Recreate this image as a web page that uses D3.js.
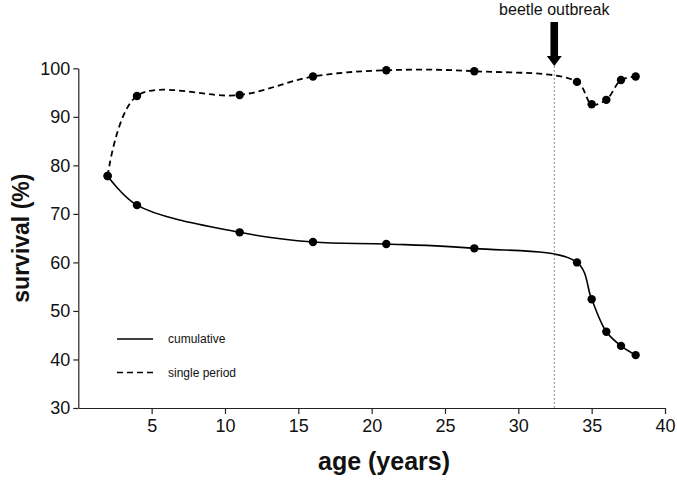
<!DOCTYPE html>
<html><head><meta charset="utf-8">
<script src="https://cdn.jsdelivr.net/npm/d3@7"></script>
<style>body{margin:0;background:#fff}svg{display:block}text{font-family:"Liberation Sans",Arial,sans-serif}</style>
</head><body>
<svg id="c" width="677" height="483"></svg>
<script>
const ages = [2, 4, 11, 16, 21, 27, 34, 35, 36, 37, 38];
const cumulative = [77.8, 71.8, 66.2, 64.2, 63.8, 62.9, 60.0, 52.4, 45.7, 42.8, 40.9];
const singlePeriod = [77.8, 94.3, 94.5, 98.3, 99.6, 99.4, 97.2, 92.6, 93.5, 97.6, 98.3];
const xTicks = [5, 10, 15, 20, 25, 30, 35, 40];
const yTicks = [30, 40, 50, 60, 70, 80, 90, 100];
const outbreakAge = 32.45;
const legendItems = [{label: "cumulative", dash: null}, {label: "single period", dash: "6,4"}];

const svg = d3.select("#c");
const x = d3.scaleLinear().domain([0, 40]).range([78.3, 665]);
const y = d3.scaleLinear().domain([30, 100]).range([408, 68.3]);

// axes
const xAxis = svg.append("g").attr("transform", `translate(0,${y(30)})`)
  .call(d3.axisBottom(x).tickValues(xTicks).tickSize(6).tickSizeOuter(0).tickPadding(5));
const yAxis = svg.append("g").attr("transform", `translate(${x(0)},0)`)
  .call(d3.axisLeft(y).tickValues(yTicks).tickSize(5).tickSizeOuter(0).tickPadding(3));
[xAxis, yAxis].forEach(g => {
  g.selectAll("path,line").attr("stroke", "#222").attr("stroke-width", 1.2);
  g.selectAll("text").attr("fill", "#111").style("font-size", "18px").style("font-family", "'Liberation Sans', Arial, sans-serif");
});

// vertical dotted line
svg.append("line").attr("x1", x(outbreakAge)).attr("x2", x(outbreakAge))
  .attr("y1", 66).attr("y2", y(30))
  .attr("stroke", "#888").attr("stroke-width", 1).attr("stroke-dasharray", "2,2");

// arrow
const ax = x(outbreakAge);
svg.append("path")
  .attr("d", `M${ax-3.8},22 L${ax+3.8},22 L${ax+3.8},56 L${ax+7.5},56 L${ax},66 L${ax-7.5},56 L${ax-3.8},56 Z`)
  .attr("fill", "#000");
svg.append("text").attr("x", ax).attr("y", 15).attr("text-anchor", "middle")
  .style("font-size", "16px").attr("fill", "#111").text("beetle outbreak");

const line = d3.line().x(d => x(d[0])).y(d => y(d[1])).curve(d3.curveCatmullRom.alpha(0.5));
const cumData = ages.map((a, i) => [a, cumulative[i]]);
const sinData = ages.map((a, i) => [a, singlePeriod[i]]);

svg.append("path").attr("d", line(cumData)).attr("fill", "none").attr("stroke", "#000").attr("stroke-width", 1.6);
svg.append("path").attr("d", line(sinData)).attr("fill", "none").attr("stroke", "#000").attr("stroke-width", 1.8).attr("stroke-dasharray", "6,4");

[cumData, sinData].forEach(data => {
  svg.append("g").selectAll("circle").data(data).join("circle")
    .attr("cx", d => x(d[0])).attr("cy", d => y(d[1])).attr("r", 4.2).attr("fill", "#000");
});

// legend
const lg = svg.append("g");
legendItems.forEach((it, i) => {
  const ly = 339 + i * 33.5;
  lg.append("line").attr("x1", 117).attr("x2", 153).attr("y1", ly).attr("y2", ly)
    .attr("stroke", "#000").attr("stroke-width", 1.6).attr("stroke-dasharray", it.dash);
  lg.append("text").attr("x", 168).attr("y", ly).attr("dy", "0.35em")
    .style("font-size", "12px").attr("fill", "#111").text(it.label);
});

// axis titles
svg.append("text").attr("x", 384).attr("y", 470).attr("text-anchor", "middle")
  .style("font-size", "25px").style("font-weight", "bold").attr("fill", "#111").text("age (years)");
svg.append("text").attr("transform", `translate(29,${(y(30) + y(100)) / 2}) rotate(-90)`)
  .attr("text-anchor", "middle").style("font-size", "23px").style("font-weight", "bold")
  .attr("fill", "#111").text("survival (%)");
</script>
</body></html>
